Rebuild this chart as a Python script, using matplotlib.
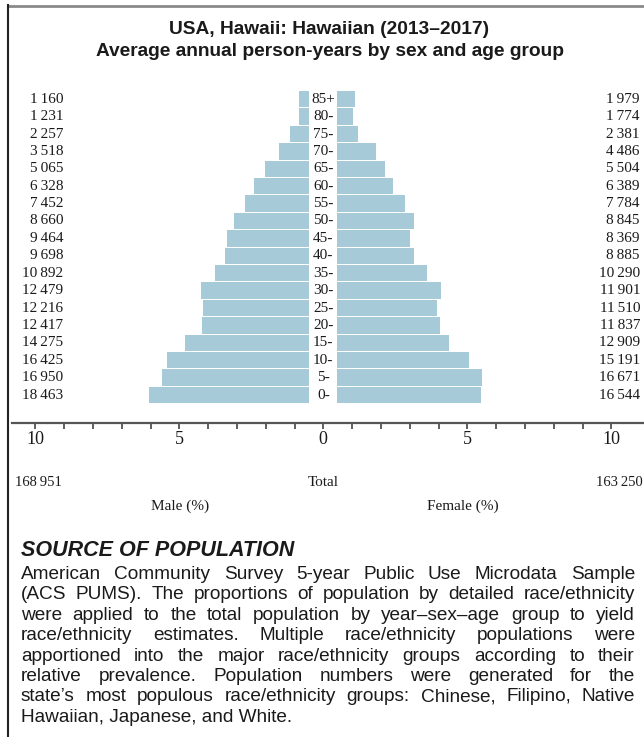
import matplotlib
matplotlib.use("Agg")
import matplotlib.pyplot as plt
import matplotlib.transforms as mtransforms
from matplotlib.lines import Line2D
import numpy as np

# ---------------- data ----------------
age_groups = ["0-", "5-", "10-", "15-", "20-", "25-", "30-", "35-", "40-",
              "45-", "50-", "55-", "60-", "65-", "70-", "75-", "80-", "85+"]
male_counts = [18463, 16950, 16425, 14275, 12417, 12216, 12479, 10892, 9698,
               9464, 8660, 7452, 6328, 5065, 3518, 2257, 1231, 1160]
female_counts = [16544, 16671, 15191, 12909, 11837, 11510, 11901, 10290, 8885,
                 8369, 8845, 7784, 6389, 5504, 4486, 2381, 1774, 1979]
male_total = 168951
female_total = 163250
tick_values = list(range(-10, 11))
tick_label_values = [-10, -5, 0, 5, 10]

title_lines = ["USA, Hawaii: Hawaiian (2013\u20132017)",
               "Average annual person-years by sex and age group"]
source_heading = "SOURCE OF POPULATION"
source_lines = [
    "American Community Survey 5-year Public Use Microdata Sample",
    "(ACS PUMS). The proportions of population by detailed race/ethnicity",
    "were applied to the total population by year\u2013sex\u2013age group to yield",
    "race/ethnicity estimates. Multiple race/ethnicity populations were",
    "apportioned into the major race/ethnicity groups according to their",
    "relative prevalence. Population numbers were generated for the",
    "state\u2019s most populous race/ethnicity groups: Chinese, Filipino, Native",
    "Hawaiian, Japanese, and White.",
]

# ---------------- figure ----------------
W, H = 644, 737
fig = plt.figure(figsize=(W / 100, H / 100), dpi=100)
fig.patch.set_facecolor("white")

SERIF = ["Liberation Serif", "DejaVu Serif"]
SANS = ["Liberation Sans", "DejaVu Sans"]
TXT = "#1a1a1a"
BAR = "#a6cad8"


def fx(px):
    return px / W


def fy(py):
    return 1 - py / H


def fmt(n):
    s = f"{n:,}"
    return s.replace(",", "\u2009")


# axes in pixel geometry
ax_left, ax_right, ax_top, ax_bot = 12, 644, 80, 423
ax = fig.add_axes([fx(ax_left), fy(ax_bot), (ax_right - ax_left) / W,
                   (ax_bot - ax_top) / H])
ppu = 28.8          # pixels per percent unit
x0 = 323.3          # pixel of zero
ax.set_xlim((ax_left - x0) / ppu, (ax_right - x0) / ppu)
pitch = 17.4
row0 = 395.0
ax.set_ylim(-(ax_bot - row0) / pitch, (row0 - ax_top) / pitch)

total = male_total + female_total
male_pct = np.array(male_counts) / total * 100
female_pct = np.array(female_counts) / total * 100
y = np.arange(len(age_groups))
gap = 0.49
ax.barh(y, -male_pct, left=-gap, height=0.94, color=BAR, edgecolor="none")
ax.barh(y, female_pct, left=gap, height=0.94, color=BAR, edgecolor="none")

for yi, lab in zip(y, age_groups):
    ax.text(0, yi, lab, ha="center", va="center", fontsize=11,
            family=SERIF, color=TXT)

blend = mtransforms.blended_transform_factory(fig.transFigure, ax.transData)
for yi, mc, fc in zip(y, male_counts, female_counts):
    ax.text(fx(63), yi, fmt(mc), ha="right", va="center", fontsize=11,
            family=SERIF, color=TXT, transform=blend)
    ax.text(fx(640), yi, fmt(fc), ha="right", va="center", fontsize=11,
            family=SERIF, color=TXT, transform=blend)

for s in ["left", "right", "top"]:
    ax.spines[s].set_visible(False)
ax.spines["bottom"].set_color("#555555")
ax.spines["bottom"].set_linewidth(1.6)
ax.set_yticks([])
ax.set_xticks(tick_values)
ax.set_xticklabels([str(abs(v)) if v in tick_label_values else "" for v in tick_values],
                   family=SERIF, fontsize=13, color=TXT)
ax.tick_params(axis="x", direction="out", length=4, width=1.1, color="#333333", pad=2)
ax.set_facecolor("none")

# bottom labels
fig.text(fx(15), fy(482), fmt(male_total), ha="left", va="center", fontsize=10.5,
         family=SERIF, color=TXT)
fig.text(fx(643), fy(482), fmt(female_total), ha="right", va="center", fontsize=10.5,
         family=SERIF, color=TXT)
fig.text(fx(323), fy(482), "Total", ha="center", va="center", fontsize=11,
         family=SERIF, color=TXT)
fig.text(fx(180), fy(506), "Male (%)", ha="center", va="center", fontsize=11,
         family=SERIF, color=TXT)
fig.text(fx(463), fy(506), "Female (%)", ha="center", va="center", fontsize=11,
         family=SERIF, color=TXT)

# title
fig.text(fx(329), fy(30), title_lines[0], ha="center", va="center", fontsize=13.8,
         family=SANS, weight="bold", color=TXT)
fig.text(fx(330), fy(51), title_lines[1], ha="center", va="center", fontsize=13.8,
         family=SANS, weight="bold", color=TXT)

# border lines
fig.add_artist(Line2D([fx(8), 1], [fy(6), fy(6)], transform=fig.transFigure,
                      color="#8a8a8a", lw=2))
fig.add_artist(Line2D([fx(8), fx(8)], [fy(5), 0], transform=fig.transFigure,
                      color="#222222", lw=1.5))

# source heading
fig.text(fx(21), fy(556), source_heading, ha="left", va="baseline", fontsize=15.5,
         family=SANS, weight="bold", style="italic", color=TXT)

# justified body text
renderer = fig.canvas.get_renderer()
left_px, right_px = 21, 635
width_px = right_px - left_px


def word_w(word, size):
    t = fig.text(0, 0, word, fontsize=size, family=SANS)
    w = t.get_window_extent(renderer).width
    t.remove()
    return w


base = 12
natural = []
for line in source_lines:
    t = fig.text(0, 0, line, fontsize=base, family=SANS)
    natural.append(t.get_window_extent(renderer).width)
    t.remove()
size = base * (width_px - 30) / max(natural)

base_y = 579
lh = 20.4
for i, line in enumerate(source_lines):
    yy = fy(base_y + i * lh)
    words = line.split(" ")
    if i == len(source_lines) - 1:
        fig.text(fx(left_px), yy, line, ha="left", va="baseline", fontsize=size,
                 family=SANS, color=TXT)
        continue
    ws = [word_w(w, size) for w in words]
    sp = (width_px - sum(ws)) / (len(words) - 1)
    xp = left_px
    for w, wd in zip(words, ws):
        fig.text(fx(xp), yy, w, ha="left", va="baseline", fontsize=size,
                 family=SANS, color=TXT)
        xp += wd + sp

fig.savefig("out.png", dpi=100, facecolor="white")
